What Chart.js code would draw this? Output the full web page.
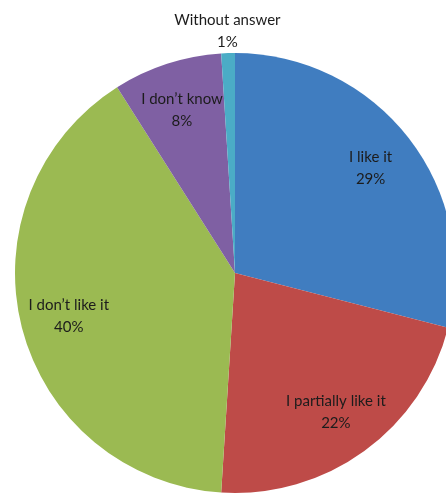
<!DOCTYPE html>
<html>
<head>
<meta charset="utf-8">
<title>Opinion poll</title>
<script src="https://cdn.jsdelivr.net/npm/chart.js@4.4.1/dist/chart.umd.min.js"></script>
<style>
  html, body { margin: 0; padding: 0; background: #fff; overflow: hidden; }
  #wrap { width: 470px; height: 497px; }
</style>
</head>
<body>
<div id="wrap"><canvas id="pieChart" width="470" height="497"></canvas></div>
<script>
// answers, clockwise from 12 o'clock
const answers = ['I like it', 'I partially like it', 'I don\u2019t like it', 'I don\u2019t know', 'Without answer'];
const shares  = [29, 22, 40, 8, 1];
const colors  = ['#407DC0', '#BE4B48', '#9BBA52', '#7F60A3', '#4BACC6'];

// two-line "name / pct" labels; tiny slices get theirs outside the rim
const sliceLabels = {
  id: 'sliceLabels',
  afterDatasetsDraw(chart) {
    const ctx = chart.ctx;
    const meta = chart.getDatasetMeta(0);
    const total = shares.reduce((a, b) => a + b, 0);
    ctx.save();
    ctx.font = '15px Lato, "Open Sans", sans-serif';
    ctx.fillStyle = '#1c1c1c';
    ctx.textAlign = 'center';
    ctx.textBaseline = 'middle';
    meta.data.forEach((arc, i) => {
      const p = arc.getProps(['x', 'y', 'startAngle', 'endAngle', 'outerRadius'], true);
      const mid = (p.startAngle + p.endAngle) / 2;
      const small = shares[i] / total < 0.03;
      const d = small ? p.outerRadius + 22 : p.outerRadius * 0.78;
      const x = p.x + Math.cos(mid) * d;
      const y = p.y + Math.sin(mid) * d;
      ctx.fillText(answers[i], x, y - 11);
      ctx.fillText(shares[i] + '%', x, y + 11);
    });
    ctx.restore();
  }
};

new Chart(document.getElementById('pieChart').getContext('2d'), {
  type: 'pie',
  data: {
    labels: answers,
    datasets: [{ data: shares, backgroundColor: colors, borderWidth: 0 }]
  },
  options: {
    responsive: false,
    animation: false,
    layout: { padding: { top: 53, bottom: 4, left: 15, right: 15 } },
    plugins: { legend: { display: false }, tooltip: { enabled: false } }
  },
  plugins: [sliceLabels]
});
</script>
</body>
</html>
